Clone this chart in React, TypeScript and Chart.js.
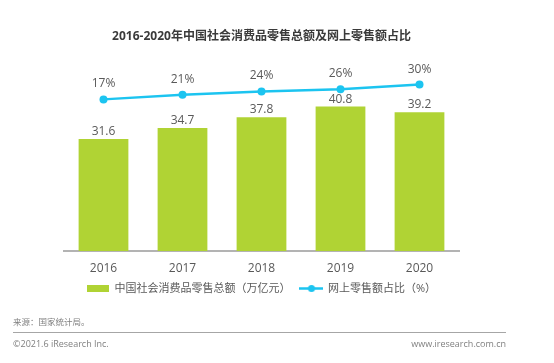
import React, { useEffect, useRef } from "react";
import { Chart, registerables } from "chart.js";

Chart.register(...registerables);

const years = ["2016", "2017", "2018", "2019", "2020"];
const retailTotal = [31.6, 34.7, 37.8, 40.8, 39.2];
const onlineShare = [17, 21, 24, 26, 30];
const seriesNames = ["中国社会消费品零售总额（万亿元）", "网上零售额占比（%）"];
const chartTitle = "2016-2020年中国社会消费品零售总额及网上零售额占比";
const sourceNote = "来源：国家统计局。";
const copyright = "©2021.6 iResearch Inc.";
const website = "www.iresearch.com.cn";

const GREEN = "#b0d334";
const CYAN = "#1cc4f0";
const TEXT = "#595959";
const FONT = '"Open Sans", "Noto Sans CJK SC", sans-serif';

function makeBoxIcon(): HTMLCanvasElement {
  const c = document.createElement("canvas");
  c.width = 22;
  c.height = 7;
  const x = c.getContext("2d")!;
  x.fillStyle = GREEN;
  x.fillRect(0, 0, 22, 7);
  return c;
}

function makeLineIcon(): HTMLCanvasElement {
  const c = document.createElement("canvas");
  c.width = 24;
  c.height = 9;
  const x = c.getContext("2d")!;
  x.strokeStyle = CYAN;
  x.lineWidth = 2.5;
  x.beginPath();
  x.moveTo(0, 4.5);
  x.lineTo(24, 4.5);
  x.stroke();
  x.fillStyle = CYAN;
  x.beginPath();
  x.arc(12, 4.5, 3.5, 0, Math.PI * 2);
  x.fill();
  return c;
}

const valueLabels = {
  id: "valueLabels",
  afterDatasetsDraw(chart: any) {
    const ctx = chart.ctx;
    ctx.save();
    ctx.font = `12px ${FONT}`;
    ctx.fillStyle = TEXT;
    ctx.textAlign = "center";
    ctx.textBaseline = "alphabetic";
    chart.data.datasets.forEach((ds: any, i: number) => {
      const meta = chart.getDatasetMeta(i);
      meta.data.forEach((el: any, j: number) => {
        const v = ds.data[j];
        const text = i === 0 ? v.toFixed(1) : `${v}%`;
        const off = i === 0 ? 4 : 12;
        ctx.fillText(text, el.x, el.y - off);
      });
    });
    ctx.restore();
  },
};

export default function App() {
  const ref = useRef<HTMLCanvasElement | null>(null);

  useEffect(() => {
    if (!ref.current) return;
    const icons = [makeBoxIcon(), makeLineIcon()];
    const chart = new Chart(ref.current, {
      type: "bar",
      data: {
        labels: years,
        datasets: [
          {
            type: "bar",
            label: seriesNames[0],
            data: retailTotal,
            backgroundColor: GREEN,
            yAxisID: "y",
            categoryPercentage: 1,
            barPercentage: 0.63,
            order: 2,
          },
          {
            type: "line",
            label: seriesNames[1],
            data: onlineShare,
            borderColor: CYAN,
            backgroundColor: CYAN,
            borderWidth: 2.5,
            pointRadius: 4,
            pointBackgroundColor: CYAN,
            pointBorderWidth: 0,
            yAxisID: "y1",
            order: 1,
          },
        ] as any,
      },
      options: {
        animation: false,
        responsive: false,
        layout: { padding: { left: 64, right: 95, top: 0, bottom: 59 } },
        scales: {
          x: {
            grid: { display: false, drawTicks: false },
            border: { display: true, color: "#b3b3b3", width: 2 },
            ticks: { color: TEXT, font: { family: FONT, size: 12 }, padding: 10 },
            afterFit: (scale: any) => {
              scale.height = scale.height - 12.5;
            },
          },
          y: { display: false, min: 0, max: 50 },
          y1: { display: false, min: -116.4, max: 39.4, position: "right" },
        },
        plugins: {
          title: {
            display: true,
            text: chartTitle,
            color: "#3a3a3a",
            font: { family: FONT, size: 12, weight: "bold" },
            padding: { top: 29.5, bottom: 30 },
          },
          legend: {
            position: "bottom",
            labels: {
              color: TEXT,
              font: { family: FONT, size: 11 },
              usePointStyle: true,
              pointStyleWidth: 22,
              padding: 10,
              generateLabels: (c: any) =>
                c.data.datasets.map((ds: any, i: number) => ({
                  text: ds.label,
                  pointStyle: icons[i],
                  fillStyle: ds.backgroundColor,
                  strokeStyle: ds.borderColor,
                  lineWidth: 0,
                  hidden: false,
                  datasetIndex: i,
                  fontColor: TEXT,
                })),
            },
          },
          tooltip: { enabled: false },
        },
      },
      plugins: [valueLabels],
    });
    return () => chart.destroy();
  }, []);

  const foot: React.CSSProperties = {
    position: "absolute",
    fontFamily: FONT,
    fontSize: 9,
    color: "#808080",
    whiteSpace: "nowrap",
    lineHeight: "12px",
  };

  return (
    <div style={{ position: "fixed", left: 0, top: 0, width: 554, height: 363, background: "#fff" }}>
      <canvas ref={ref} width={554} height={363} style={{ position: "absolute", left: 0, top: 0 }} />
      <div style={{ ...foot, left: 13, top: 316, fontSize: 8.5 }}>{sourceNote}</div>
      <div style={{ position: "absolute", left: 13, top: 332, width: 493, height: 1, background: "#a6a6a6" }} />
      <div style={{ ...foot, left: 13, top: 338 }}>{copyright}</div>
      <div style={{ ...foot, right: 48, top: 338 }}>{website}</div>
    </div>
  );
}
